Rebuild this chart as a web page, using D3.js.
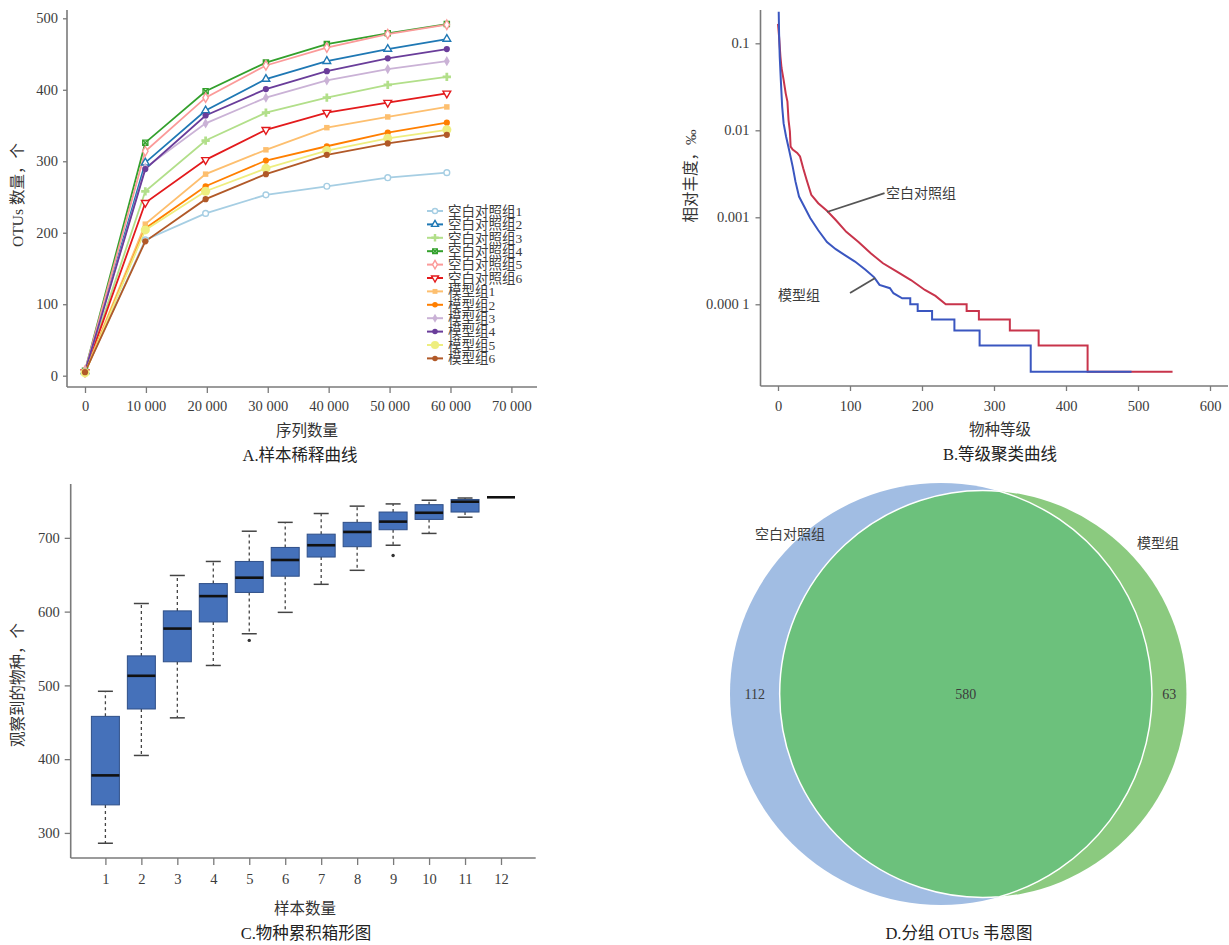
<!DOCTYPE html>
<html lang="zh">
<head>
<meta charset="utf-8">
<title>OTU 分析图</title>
<script src="https://cdn.jsdelivr.net/npm/d3@7"></script>
<style>
  body { margin: 0; background: #fff; }
  svg { display: block; }
  text { font-family: "Liberation Serif", "Noto Sans CJK SC", serif; fill: #3c3c3c; }
  .axis text { font-size: 14.5px; }
  .axis line { stroke: #7a7a7a; stroke-width: 1.3; }
  .frame { stroke: #7a7a7a; stroke-width: 1.6; }
  .title { font-size: 15.5px; fill: #333; }
  .caption { font-size: 16.5px; fill: #222; }
  .legend text { font-size: 13.5px; }
</style>
</head>
<body>
<svg id="fig" width="1229" height="945"></svg>
<script>
// ---- A. 样本稀释曲线 ----
var seqDepth = [0, 9900, 19800, 29700, 39700, 49700, 59400];
var sampleNames = ["空白对照组1", "空白对照组2", "空白对照组3", "空白对照组4", "空白对照组5", "空白对照组6",
                   "模型组1", "模型组2", "模型组3", "模型组4", "模型组5", "模型组6"];
var otuCounts = [
  [5, 190, 227, 253, 265, 277, 284],
  [6, 298, 371, 415, 440, 457, 471],
  [6, 258, 329, 368, 389, 407, 418],
  [7, 326, 398, 438, 464, 479, 492],
  [7, 314, 389, 434, 459, 478, 491],
  [5, 242, 302, 344, 368, 382, 395],
  [5, 212, 282, 316, 347, 362, 376],
  [4, 206, 265, 301, 321, 340, 354],
  [6, 291, 353, 389, 413, 429, 440],
  [6, 289, 364, 401, 426, 444, 457],
  [4, 204, 258, 290, 315, 332, 344],
  [5, 188, 247, 282, 309, 325, 337]
];
var depthTicks = [0, 10000, 20000, 30000, 40000, 50000, 60000, 70000];
var otuTicks = [0, 100, 200, 300, 400, 500];

// ---- B. 等级聚类曲线 (rank, relative abundance) ----
var controlRank = [[0,0.167],[1.5,0.119],[3.4,0.070],[4.9,0.052],[7.8,0.038],[10.7,0.0266],[13.1,0.0214],
  [14.6,0.0132],[16.5,0.0097],[17.5,0.0065],[20.4,0.0060],[26.7,0.0055],[30.6,0.0050],[35,0.00366],
  [39.8,0.00268],[46.2,0.00181],[55.9,0.00145],[68,0.00119],[80.2,0.00093],[94.8,0.00068],[111.8,0.00052],
  [128.8,0.000385],[145.8,0.000296],[165.2,0.000237],[184.6,0.000190],[204,0.000146],[218.7,0.000125],
  [233,0.0001],[262,0.0001],[262,0.000084],[279,0.000084],[279,0.000067],[322,0.000067],[322,0.000050],
  [362,0.000050],[362,0.0000336],[430,0.0000336],[430,0.0000168],[548,0.0000168]];
var modelRank = [[1,0.231],[1.5,0.130],[2.4,0.070],[3.9,0.038],[5.8,0.0187],[7.8,0.0120],[11.2,0.0085],
  [15.5,0.0059],[20.4,0.00382],[24.3,0.00257],[29.2,0.00173],[36.4,0.00133],[44.7,0.00098],[55.9,0.00071],
  [68,0.00052],[80.2,0.00043],[92.3,0.00037],[106.9,0.00031],[121.5,0.00025],[133.6,0.000204],[141,0.000167],
  [155.5,0.000153],[160.3,0.000134],[172.5,0.000117],[183.7,0.000117],[183.7,0.0001],[194,0.0001],
  [194,0.000084],[214,0.000084],[214,0.000067],[245,0.000067],[245,0.000050],[280,0.000050],
  [280,0.0000336],[351,0.0000336],[351,0.0000168],[491,0.0000168]];
var rankTicks = [0, 100, 200, 300, 400, 500, 600];
var abundTicks = [0.1, 0.01, 0.001, 0.0001];
var abundLabels = ["0.1", "0.01", "0.001", "0.000 1"];

// ---- C. 物种累积箱形图 ----
var sampleNum = [1, 2, 3, 4, 5, 6, 7, 8, 9, 10, 11, 12];
var boxMin = [286, 405, 456, 527, 570, 599, 637, 656, 690, 706, 728, 755];
var boxQ1  = [338, 468, 532, 586, 626, 648, 674, 688, 711, 725, 735, 755];
var boxMed = [378, 513, 577, 621, 646, 670, 690, 708, 722, 734, 749, 755];
var boxQ3  = [458, 540, 601, 638, 668, 687, 705, 721, 735, 745, 752, 755];
var boxMax = [492, 611, 649, 668, 709, 721, 733, 743, 746, 751, 754, 755];
var boxOutliers = [[5, 561], [9, 676]];
var speciesTicks = [300, 400, 500, 600, 700];

// ---- D. 韦恩图 ----
var vennSets = ["空白对照组", "模型组"];
var vennOnly = [112, 63];
var vennShared = 580;

var svg = d3.select("#fig");

function cleanAxis(g) {
  g.select(".domain").remove();
  g.attr("font-family", null).attr("font-size", null);
}

// ================= A =================
var gA = svg.append("g");
var xA = d3.scaleLinear().domain([0, 70000]).range([85, 511.4]);
var yA = d3.scaleLinear().domain([0, 500]).range([375.7, 18.3]);

gA.append("line").attr("class", "frame").attr("x1", 67).attr("x2", 67).attr("y1", 10).attr("y2", 387);
gA.append("line").attr("class", "frame").attr("x1", 67).attr("x2", 537).attr("y1", 387).attr("y2", 387);
gA.append("g").attr("class", "axis").attr("transform", "translate(67,0)")
  .call(d3.axisLeft(yA).tickValues(otuTicks).tickSize(4).tickPadding(5)).call(cleanAxis);
gA.append("g").attr("class", "axis").attr("transform", "translate(0,387)")
  .call(d3.axisBottom(xA).tickValues(depthTicks).tickSize(6).tickPadding(8)
    .tickFormat(d => d3.format(",")(d).replace(",", " "))).call(cleanAxis);

var colors = d3.schemePaired.slice();
colors[10] = "#eeee80";
var markerKind = ["circle", "triangle", "plus", "boxx", "diamond", "tridown",
                  "square", "circle", "diamond", "circle", "bigcircle", "circle"];
var markerOpen = [true, true, false, true, true, true, false, false, false, false, false, false];

function drawMarker(g, k, x, y, scale) {
  var kind = markerKind[k], c = colors[k], s = scale || 1;
  var type = {circle: d3.symbolCircle, bigcircle: d3.symbolCircle, triangle: d3.symbolTriangle,
              tridown: d3.symbolTriangle, diamond: d3.symbolDiamond, square: d3.symbolSquare,
              boxx: d3.symbolSquare, plus: d3.symbolCross}[kind];
  var size = (kind === "bigcircle" ? 65 : (kind === "plus" ? 38 : (markerOpen[k] ? 26 : 30))) * s;
  var p = g.append("path").attr("d", d3.symbol(type, size)())
    .attr("transform", "translate(" + x + "," + y + ")" + (kind === "tridown" ? " rotate(180)" : ""));
  if (markerOpen[k]) p.attr("fill", "#fff").attr("stroke", c).attr("stroke-width", 1.4);
  else p.attr("fill", c);
  if (kind === "boxx") {
    g.append("path").attr("d", "M-2.3,-2.3L2.3,2.3M-2.3,2.3L2.3,-2.3")
      .attr("transform", "translate(" + x + "," + y + ")").attr("stroke", c).attr("stroke-width", 1.4);
  }
}

var lineA = d3.line().x((d, i) => xA(seqDepth[i])).y(d => yA(d));
otuCounts.forEach(function(vals, k) {
  gA.append("path").attr("d", lineA(vals)).attr("fill", "none")
    .attr("stroke", colors[k]).attr("stroke-width", 1.8);
});
otuCounts.forEach(function(vals, k) {
  vals.forEach(function(v, i) { drawMarker(gA, k, xA(seqDepth[i]), yA(v)); });
});

var leg = gA.append("g").attr("class", "legend");
sampleNames.forEach(function(name, k) {
  var y = 211 + k * 13.4;
  leg.append("line").attr("x1", 427).attr("x2", 443).attr("y1", y).attr("y2", y)
    .attr("stroke", colors[k]).attr("stroke-width", 2);
  drawMarker(leg, k, 435, y, 0.8);
  leg.append("text").attr("x", 448).attr("y", y).attr("dy", "0.36em").text(name);
});

gA.append("text").attr("class", "title").attr("x", 307).attr("y", 431).attr("dy", "0.35em")
  .attr("text-anchor", "middle").text("序列数量");
gA.append("text").attr("class", "caption").attr("x", 300).attr("y", 455).attr("dy", "0.35em")
  .attr("text-anchor", "middle").text("A.样本稀释曲线");
gA.append("text").attr("class", "title").attr("transform", "translate(18,195) rotate(-90)")
  .attr("dy", "0.35em").attr("text-anchor", "middle").text("OTUs 数量，个");

// ================= B =================
var gB = svg.append("g");
var xB = d3.scaleLinear().domain([0, 600]).range([778, 1210]);
var yB = d3.scaleLog().domain([1.15e-5, 0.2415]).range([386, 10]);

gB.append("line").attr("class", "frame").attr("x1", 760.5).attr("x2", 760.5).attr("y1", 10).attr("y2", 386);
gB.append("line").attr("class", "frame").attr("x1", 760.5).attr("x2", 1228).attr("y1", 386).attr("y2", 386);
gB.append("g").attr("class", "axis").attr("transform", "translate(760.5,0)")
  .call(d3.axisLeft(yB).tickValues(abundTicks).tickSize(5).tickPadding(6)
    .tickFormat((d, i) => abundLabels[i])).call(cleanAxis);
gB.append("g").attr("class", "axis").attr("transform", "translate(0,386)")
  .call(d3.axisBottom(xB).tickValues(rankTicks).tickSize(5).tickPadding(10)).call(cleanAxis);

var lineB = d3.line().x(d => xB(d[0])).y(d => yB(d[1]));
gB.append("path").attr("d", lineB(controlRank)).attr("fill", "none")
  .attr("stroke", "#c8344b").attr("stroke-width", 2);
gB.append("path").attr("d", lineB(modelRank)).attr("fill", "none")
  .attr("stroke", "#3a56c0").attr("stroke-width", 2);

// leader lines
gB.append("line").attr("x1", xB(68)).attr("y1", yB(0.00115)).attr("x2", xB(148)).attr("y2", yB(0.0019))
  .attr("stroke", "#555").attr("stroke-width", 1.8);
gB.append("text").attr("x", xB(150)).attr("y", yB(0.0019)).attr("dy", "0.35em")
  .style("font-size", "14px").text(vennSets[0]);
gB.append("line").attr("x1", xB(100)).attr("y1", yB(0.000135)).attr("x2", xB(135)).attr("y2", yB(0.000201))
  .attr("stroke", "#555").attr("stroke-width", 1.8);
gB.append("text").attr("x", xB(0)).attr("y", 295).attr("dy", "0.35em")
  .style("font-size", "14px").text(vennSets[1]);

gB.append("text").attr("class", "title").attr("x", 1000).attr("y", 430).attr("dy", "0.35em")
  .attr("text-anchor", "middle").text("物种等级");
gB.append("text").attr("class", "caption").attr("x", 1000).attr("y", 454).attr("dy", "0.35em")
  .attr("text-anchor", "middle").text("B.等级聚类曲线");
gB.append("text").attr("class", "title").attr("transform", "translate(690.5,176) rotate(-90)")
  .attr("dy", "0.35em").attr("text-anchor", "middle").text("相对丰度，‰");

// ================= C =================
var gC = svg.append("g");
var xC = d3.scalePoint().domain(sampleNum).range([105.4, 501]);
var yC = d3.scaleLinear().domain([266, 773]).range([858, 484]);

gC.append("line").attr("class", "frame").attr("x1", 70.7).attr("x2", 70.7).attr("y1", 484).attr("y2", 858);
gC.append("line").attr("class", "frame").attr("x1", 70.7).attr("x2", 535.7).attr("y1", 858).attr("y2", 858);
gC.append("g").attr("class", "axis").attr("transform", "translate(70.7,0)")
  .call(d3.axisLeft(yC).tickValues(speciesTicks).tickSize(6).tickPadding(5)).call(cleanAxis);
gC.append("g").attr("class", "axis").attr("transform", "translate(0,858)")
  .call(d3.axisBottom(xC).tickSize(7).tickPadding(9)).call(cleanAxis);

var boxW = 28, capW = 15;
sampleNum.forEach(function(n, i) {
  var x = xC(n);
  var g = gC.append("g");
  [[boxQ3[i], boxMax[i]], [boxQ1[i], boxMin[i]]].forEach(function(w) {
    g.append("line").attr("x1", x).attr("x2", x).attr("y1", yC(w[0])).attr("y2", yC(w[1]))
      .attr("stroke", "#444").attr("stroke-width", 1.3).attr("stroke-dasharray", "3,3");
    g.append("line").attr("x1", x - capW / 2).attr("x2", x + capW / 2).attr("y1", yC(w[1])).attr("y2", yC(w[1]))
      .attr("stroke", "#444").attr("stroke-width", 1.5);
  });
  g.append("rect").attr("x", x - boxW / 2).attr("width", boxW)
    .attr("y", yC(boxQ3[i])).attr("height", yC(boxQ1[i]) - yC(boxQ3[i]))
    .attr("fill", "#4571ba").attr("stroke", "#2f4f88").attr("stroke-width", 1);
  g.append("line").attr("x1", x - boxW / 2).attr("x2", x + boxW / 2)
    .attr("y1", yC(boxMed[i])).attr("y2", yC(boxMed[i]))
    .attr("stroke", "#111").attr("stroke-width", 2.6);
});
boxOutliers.forEach(function(o) {
  gC.append("circle").attr("cx", xC(o[0])).attr("cy", yC(o[1])).attr("r", 1.7).attr("fill", "#333");
});

gC.append("text").attr("class", "title").attr("x", 305).attr("y", 909).attr("dy", "0.35em")
  .attr("text-anchor", "middle").text("样本数量");
gC.append("text").attr("class", "caption").attr("x", 306).attr("y", 933).attr("dy", "0.35em")
  .attr("text-anchor", "middle").text("C.物种累积箱形图");
gC.append("text").attr("class", "title").attr("transform", "translate(18,685) rotate(-90)")
  .attr("dy", "0.35em").attr("text-anchor", "middle").text("观察到的物种，个");

// ================= D =================
var gD = svg.append("g");
var totA = vennOnly[0] + vennShared, totB = vennOnly[1] + vennShared;
var rScale = d3.scaleSqrt().domain([0, totA]).range([0, 211]);
var r1 = rScale(totA), r2 = rScale(totB);
var unitArea = Math.PI * r1 * r1 / totA;

function lensArea(d) {
  var a = r1 * r1 * Math.acos((d * d + r1 * r1 - r2 * r2) / (2 * d * r1));
  var b = r2 * r2 * Math.acos((d * d + r2 * r2 - r1 * r1) / (2 * d * r2));
  var c = 0.5 * Math.sqrt((-d + r1 + r2) * (d + r1 - r2) * (d - r1 + r2) * (d + r1 + r2));
  return a + b - c;
}
var target = vennShared * unitArea, lo = Math.abs(r1 - r2) + 1e-6, hi = r1 + r2;
for (var it = 0; it < 60; it++) {
  var mid = (lo + hi) / 2;
  if (lensArea(mid) > target) lo = mid; else hi = mid;
}
var dist = (lo + hi) / 2;
var cy = 694, c1 = 941, c2 = c1 + dist;

gD.append("circle").attr("cx", c1).attr("cy", cy).attr("r", r1).attr("fill", "#a1bde3");
gD.append("circle").attr("cx", c2).attr("cy", cy).attr("r", r2).attr("fill", "#8bca7f");

var px = (dist * dist + r1 * r1 - r2 * r2) / (2 * dist);
var py = Math.sqrt(r1 * r1 - px * px);
var lens = "M" + (c1 + px) + "," + (cy - py) +
  "A" + r2 + "," + r2 + " 0 1 0 " + (c1 + px) + "," + (cy + py) +
  "A" + r1 + "," + r1 + " 0 0 0 " + (c1 + px) + "," + (cy - py) + "Z";
gD.append("path").attr("d", lens).attr("fill", "#6cc17c").attr("stroke", "#fff").attr("stroke-width", 1.5);

gD.append("text").attr("x", (c1 - r1 + c2 - r2) / 2).attr("y", cy).attr("dy", "0.35em")
  .attr("text-anchor", "middle").style("font-size", "14px").text(vennOnly[0]);
gD.append("text").attr("x", (c2 - r2 + c1 + r1) / 2).attr("y", cy).attr("dy", "0.35em")
  .attr("text-anchor", "middle").style("font-size", "14px").text(vennShared);
gD.append("text").attr("x", (c1 + r1 + c2 + r2) / 2).attr("y", cy).attr("dy", "0.35em")
  .attr("text-anchor", "middle").style("font-size", "14px").text(vennOnly[1]);
gD.append("text").attr("x", c1 - 151).attr("y", cy - 160).attr("dy", "0.35em")
  .attr("text-anchor", "middle").style("font-size", "14px").text(vennSets[0]);
gD.append("text").attr("x", c2 + 175).attr("y", cy - 151).attr("dy", "0.35em")
  .attr("text-anchor", "middle").style("font-size", "14px").text(vennSets[1]);

gD.append("text").attr("class", "caption").attr("x", 959).attr("y", 933).attr("dy", "0.35em")
  .attr("text-anchor", "middle").text("D.分组 OTUs 韦恩图");
</script>
</body>
</html>
